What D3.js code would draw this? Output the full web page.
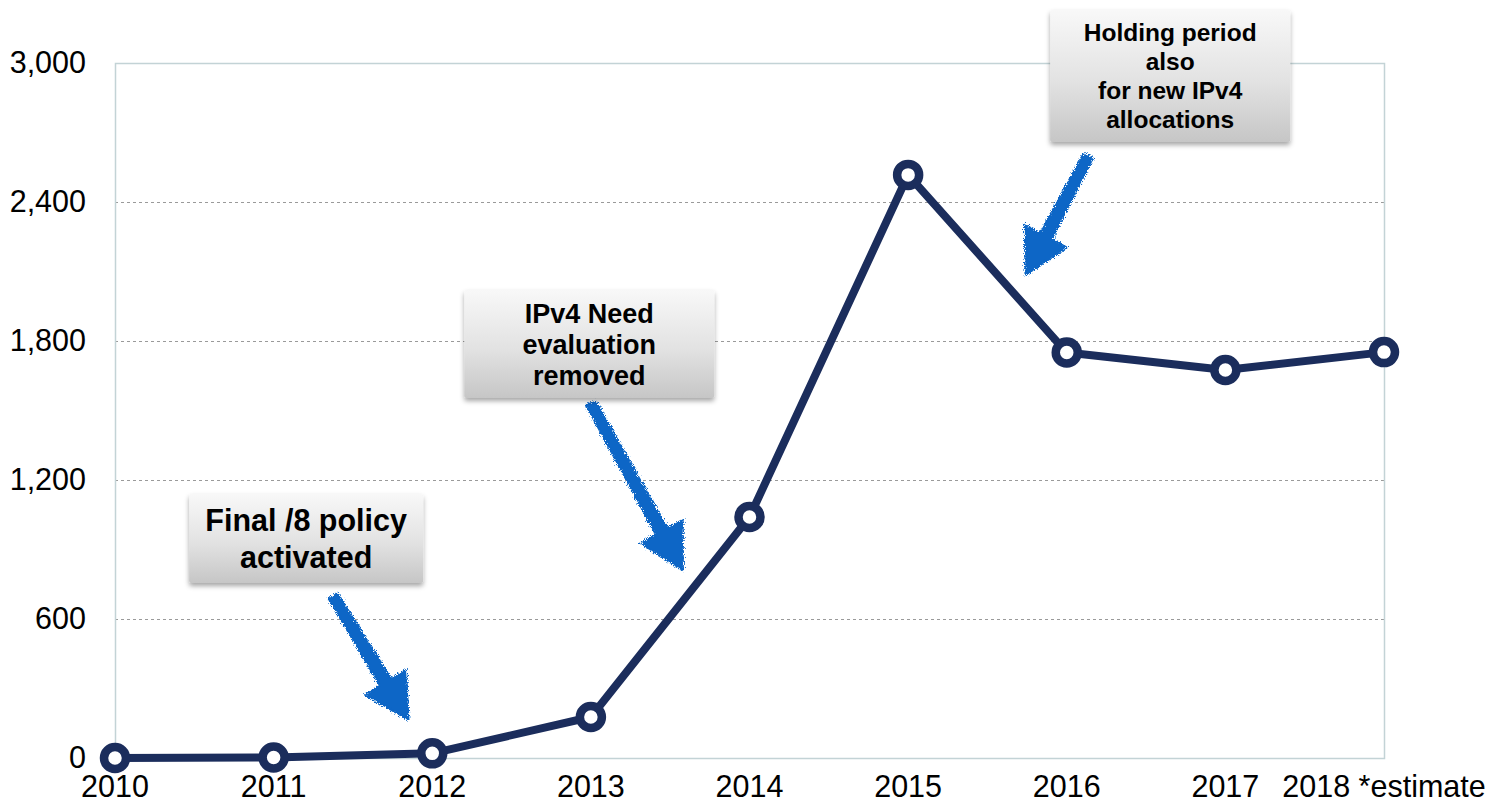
<!DOCTYPE html>
<html>
<head>
<meta charset="utf-8">
<script src="https://cdn.jsdelivr.net/npm/d3@7"></script>
<style>
  body { margin: 0; background: #fff; }
  svg { display: block; font-family: "Liberation Sans", Arial, Helvetica, sans-serif; }
  .tick-label { font-size: 30.5px; fill: #000; }
  .note text { font-weight: bold; fill: #000; }
</style>
</head>
<body>
<svg id="chart"></svg>
<script>
//chart data
var years = ['2010', '2011', '2012', '2013', '2014', '2015', '2016', '2017', '2018'];
var yearLabels = ['2010', '2011', '2012', '2013', '2014', '2015', '2016', '2017', '2018 *estimate'];
var counts = [0, 2, 20, 177, 1040, 2517, 1750, 1675, 1752];
var yTicks = [0, 600, 1200, 1800, 2400, 3000];

//annotation boxes and arrows (anchored in data units)
var notes = [
    {lines: ['Final /8 policy', 'activated'], year: 2011.205, value: 947, w: 234, h: 89, size: 30.5, lh: 37},
    {lines: ['IPv4 Need', 'evaluation', 'removed'], year: 2012.99, value: 1787, w: 250, h: 108, size: 27, lh: 31},
    {lines: ['Holding period', 'also', 'for new IPv4', 'allocations'], year: 2016.652, value: 2944, w: 240, h: 132, size: 24.5, lh: 29}
];
var arrows = [
    {from: [2011.375, 699], to: [2011.85, 164]},
    {from: [2013.0, 1532], to: [2013.58, 811]},
    {from: [2016.135, 2599], to: [2015.74, 2085]}
];

//chart parameters
var svg = d3.select('#chart')
    .attr('width', 1505)
    .attr('height', 808);

var margin = {top: 63, right: 120, bottom: 50, left: 115},
    width = +svg.attr('width') - margin.left - margin.right,
    height = +svg.attr('height') - margin.top - margin.bottom;

//scales
var xScale = d3.scalePoint().domain(years).range([0, width - 1]),
    yScale = d3.scaleLinear().domain([0, 3000]).range([height, 0]);
var xYear = d3.scaleLinear().domain([2010, 2018]).range([0, width - 1]);

var defs = svg.append('defs');

//box gradient
var grad = defs.append('linearGradient')
    .attr('id', 'boxGrad')
    .attr('x1', 0).attr('y1', 0).attr('x2', 0).attr('y2', 1);
grad.append('stop').attr('offset', '0%').attr('stop-color', '#f8f8f8');
grad.append('stop').attr('offset', '55%').attr('stop-color', '#e2e2e2');
grad.append('stop').attr('offset', '100%').attr('stop-color', '#c6c6c6');

//box shadow
var shadow = defs.append('filter').attr('id', 'shadow')
    .attr('x', '-10%').attr('y', '-10%').attr('width', '120%').attr('height', '130%');
shadow.append('feDropShadow')
    .attr('dx', 0).attr('dy', 3)
    .attr('stdDeviation', 2.5)
    .attr('flood-color', '#000')
    .attr('flood-opacity', 0.35);

//rough chalk look for arrows
var rough = defs.append('filter').attr('id', 'rough')
    .attr('x', '-20%').attr('y', '-20%').attr('width', '140%').attr('height', '140%');
rough.append('feTurbulence')
    .attr('type', 'fractalNoise')
    .attr('baseFrequency', 1.1)
    .attr('numOctaves', 2)
    .attr('seed', 3)
    .attr('result', 'noise');
rough.append('feDisplacementMap')
    .attr('in', 'SourceGraphic')
    .attr('in2', 'noise')
    .attr('scale', 7)
    .attr('xChannelSelector', 'R')
    .attr('yChannelSelector', 'G');

var canvas = svg.append('g')
    .attr('transform', 'translate(' + margin.left + ',' + margin.top + ')');

//gridlines
canvas.append('g')
    .selectAll('line')
    .data(yTicks.filter(d => d > 0 && d < 3000))
    .enter().append('line')
        .attr('x1', 0).attr('x2', width)
        .attr('y1', d => yScale(d) + 0.5).attr('y2', d => yScale(d) + 0.5)
        .attr('stroke', '#9a9a9a')
        .attr('stroke-width', 1)
        .attr('stroke-dasharray', '3,3');

//plot frame
canvas.append('rect')
    .attr('x', 0.5).attr('y', 0.5)
    .attr('width', width - 1).attr('height', height)
    .attr('fill', 'none')
    .attr('stroke', '#c3d3d6')
    .attr('stroke-width', 1.5);

//y axis labels
canvas.append('g')
    .selectAll('text')
    .data(yTicks)
    .enter().append('text')
        .attr('class', 'tick-label')
        .attr('x', -29)
        .attr('y', d => yScale(d) + 10)
        .attr('text-anchor', 'end')
        .text(d3.format(','));

//x axis labels
canvas.append('g')
    .selectAll('text')
    .data(years)
    .enter().append('text')
        .attr('class', 'tick-label')
        .attr('x', d => xScale(d))
        .attr('y', height + 39)
        .attr('text-anchor', 'middle')
        .text((d, i) => yearLabels[i]);

//arrows
function arrowPath(a) {
    var x0 = margin.left + xYear(a.from[0]), y0 = margin.top + yScale(a.from[1]),
        x1 = margin.left + xYear(a.to[0]), y1 = margin.top + yScale(a.to[1]);
    var dx = x1 - x0, dy = y1 - y0, len = Math.sqrt(dx * dx + dy * dy);
    var ux = dx / len, uy = dy / len, px = -uy, py = ux;
    var head = 44, hw = 24, sw = 6.5;
    var bx = x1 - ux * head, by = y1 - uy * head;
    var pts = [
        [x0 + px * sw * 0.8, y0 + py * sw * 0.8],
        [bx + px * sw, by + py * sw],
        [bx + px * hw, by + py * hw],
        [x1, y1],
        [bx - px * hw, by - py * hw],
        [bx - px * sw, by - py * sw],
        [x0 - px * sw * 0.8, y0 - py * sw * 0.8]
    ];
    return 'M' + pts.map(p => p[0].toFixed(1) + ',' + p[1].toFixed(1)).join('L') + 'Z';
}

svg.append('g')
    .attr('filter', 'url(#rough)')
    .selectAll('path')
    .data(arrows)
    .enter().append('path')
        .attr('d', arrowPath)
        .attr('fill', '#0b66c6')
        .attr('stroke', '#0b66c6')
        .attr('stroke-width', 2)
        .attr('stroke-linejoin', 'round');

//data line
var line = d3.line()
    .x((d, i) => xScale(years[i]))
    .y(d => yScale(d));

canvas.append('path')
    .datum(counts)
    .attr('d', line)
    .attr('fill', 'none')
    .attr('stroke', '#1b2d5c')
    .attr('stroke-width', 8)
    .attr('stroke-linejoin', 'round');

//markers
canvas.selectAll('.dot')
    .data(counts)
    .enter().append('circle')
        .attr('class', 'dot')
        .attr('cx', (d, i) => xScale(years[i]))
        .attr('cy', d => yScale(d))
        .attr('r', 11)
        .attr('fill', '#fff')
        .attr('stroke', '#1b2d5c')
        .attr('stroke-width', 8.5);

//annotation boxes
var note = svg.selectAll('.note')
    .data(notes)
    .enter().append('g')
        .attr('class', 'note')
        .attr('transform', d => 'translate(' + (margin.left + xYear(d.year)) + ',' + (margin.top + yScale(d.value)) + ')');

note.append('rect')
    .attr('x', d => -d.w / 2)
    .attr('y', d => -d.h / 2)
    .attr('width', d => d.w)
    .attr('height', d => d.h)
    .attr('rx', 2)
    .attr('fill', 'url(#boxGrad)')
    .attr('filter', 'url(#shadow)');

note.each(function(d) {
    var g = d3.select(this);
    var top = -(d.lines.length - 1) * d.lh / 2;
    d.lines.forEach(function(t, i) {
        g.append('text')
            .attr('x', 0)
            .attr('y', top + i * d.lh + d.size * 0.36)
            .attr('text-anchor', 'middle')
            .style('font-size', d.size + 'px')
            .text(t);
    });
});
</script>
</body>
</html>
